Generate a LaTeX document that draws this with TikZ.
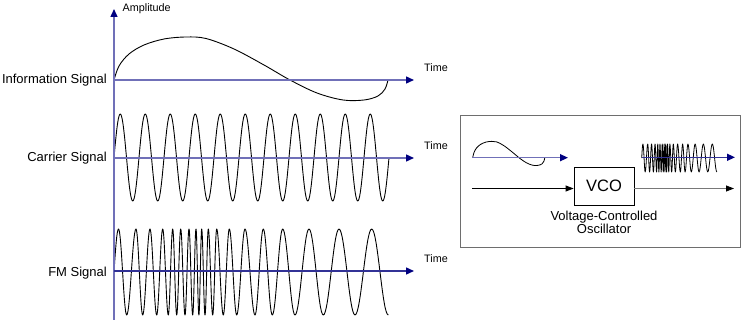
\documentclass[tikz,border=0pt]{standalone}
\usepackage{fontspec}
\setmainfont{Liberation Sans}
\usetikzlibrary{arrows.meta}
\definecolor{axiscol}{RGB}{112,112,184}
\definecolor{fmaxis}{RGB}{50,50,150}
\definecolor{tipcol}{RGB}{0,0,128}
\definecolor{boxgray}{RGB}{110,110,110}
\definecolor{outgray}{RGB}{120,120,120}
\tikzset{
  axisline/.style={draw=axiscol, line width=1.4pt, -{Triangle[length=8pt,width=7pt,color=tipcol]}},
  fmaxisline/.style={axisline, draw=fmaxis},
  signal/.style={draw=black, line width=0.9pt, line join=round},
  biglabel/.style={font=\fontsize{13}{15}\selectfont, inner sep=0pt},
  smalllabel/.style={font=\fontsize{10.8}{13}\selectfont, inner sep=0pt},
  vcobox/.style={draw=black, line width=0.8pt, minimum width=60pt, minimum height=38pt, font=\fontsize{16.5}{18}\selectfont, inner sep=0pt},
  panelbox/.style={draw=boxgray, line width=0.8pt, minimum width=280pt, minimum height=132pt, inner sep=0pt},
  flowarrow/.style={line width=0.8pt, -{Triangle[length=8pt,width=6pt,color=black]}},
}
\newcommand{\infocurve}{plot[smooth, tension=0.55] coordinates {(0,0) (5,-14) (15,-26) (30,-35) (50,-41) (72,-43) (92,-41.5) (120,-31) (150,-15) (176,0) (203,13) (229,20) (250,20) (264,16) (271,9) (274,0)}}
\newcommand{\fmcurve}{(0,0) sin (4.5,1) cos (8.6,0) sin (12.7,-1) cos (17.35,0) sin (22,1) cos (25.35,0) sin (28.7,-1) cos (32.35,0) sin (36,1) cos (39.35,0) sin (42.7,-1) cos (45.7,0) sin (48.7,1) cos (51.5,0) sin (54.3,-1) cos (56.5,0) sin (58.7,1) cos (60.7,0) sin (62.7,-1) cos (64.7,0) sin (66.7,1) cos (68.85,0) sin (71,-1) cos (73,0) sin (75,1) cos (76.85,0) sin (78.7,-1) cos (80.35,0) sin (82,1) cos (83.45,0) sin (84.9,-1) cos (86.3,0) sin (87.7,1) cos (89.35,0) sin (91,-1) cos (92.65,0) sin (94.3,1) cos (96.5,0) sin (98.7,-1) cos (100.7,0) sin (102.7,1) cos (106,0) sin (109.3,-1) cos (112.3,0) sin (115.3,1) cos (119,0) sin (122.7,-1) cos (126.85,0) sin (131,1) cos (136,0) sin (141,-1) cos (145.15,0) sin (149.3,1) cos (153.8,0) sin (158.3,-1) cos (163.5,0) sin (168.7,1) cos (174.85,0) sin (181,-1) cos (188,0) sin (195,1) cos (202.15,0) sin (209.3,-1) cos (217.15,0) sin (225,1) cos (233,0) sin (241,-1) cos (249.35,0) sin (257.7,1) cos (266,0) sin (274.3,-1)}
\begin{document}
\begin{tikzpicture}[x=1pt,y=-1pt]
\useasboundingbox (0,0) rectangle (743,320);
% signals
\begin{scope}[shift={(114,80)}]
  \draw[signal] \infocurve;
\end{scope}
\begin{scope}[shift={(114,157.5)}, yscale=-43.5]
  \draw[signal] plot[domain=0:275, samples=440, smooth] (\x,{sin(\x*14.4)});
\end{scope}
\begin{scope}[shift={(114,272)}, yscale=-43]
  \draw[signal] \fmcurve;
\end{scope}
% axes
\coordinate (yb) at (114,320);
\coordinate (yt) at (114,9);
\draw[axisline] (yb) -- (yt);
\coordinate (i0) at (114,80);
\coordinate (i1) at (414,80);
\draw[axisline] (i0) -- (i1);
\coordinate (c0) at (114,158);
\coordinate (c1) at (414,158);
\draw[axisline] (c0) -- (c1);
\coordinate (f0) at (114,271);
\coordinate (f1) at (414,271);
\draw[fmaxisline] (f0) -- (f1);
% labels
\node[smalllabel, anchor=base west] (amp) at (122.5,11.5) {Amplitude};
\node[smalllabel, anchor=base west] (t1) at (424,71.3) {Time};
\node[smalllabel, anchor=base west] (t2) at (424,149.3) {Time};
\node[smalllabel, anchor=base west] (t3) at (424,262.3) {Time};
\node[biglabel, anchor=base east] (linfo) at (107,84) {Information Signal};
\node[biglabel, anchor=base east] (lcar) at (107,162) {Carrier Signal};
\node[biglabel, anchor=base east] (lfm) at (107,276) {FM Signal};
% right panel
\node[panelbox] (panel) at (600,181) {};
\begin{scope}[shift={(472.7,157.7)}, xscale=0.263, yscale=0.38]
  \draw[signal, line width=0.8pt] \infocurve;
\end{scope}
\begin{scope}[shift={(641.7,158)}, xscale=0.274, yscale=-14]
  \draw[signal, line width=0.8pt] \fmcurve;
\end{scope}
\coordinate (si0) at (472,157.7);
\coordinate (si1) at (568,157.7);
\draw[axisline] (si0) -- (si1);
\coordinate (sf0) at (642,157.3);
\coordinate (sf1) at (735,157.3);
\draw[fmaxisline] (sf0) -- (sf1);
\node[vcobox] (vco) at (604,186) {VCO};
\coordinate (vin) at (472,188.5);
\coordinate (vout) at (734,188.5);
\draw[flowarrow] (vin) -- (vin -| vco.west);
\draw[flowarrow, draw=outgray] (vco.east |- vout) -- (vout);
\node[font=\fontsize{13}{13.3}\selectfont, inner sep=0pt, align=center, anchor=north] (vcolabel) at (604,211) {Voltage-Controlled\\Oscillator};
\end{tikzpicture}
\end{document}
